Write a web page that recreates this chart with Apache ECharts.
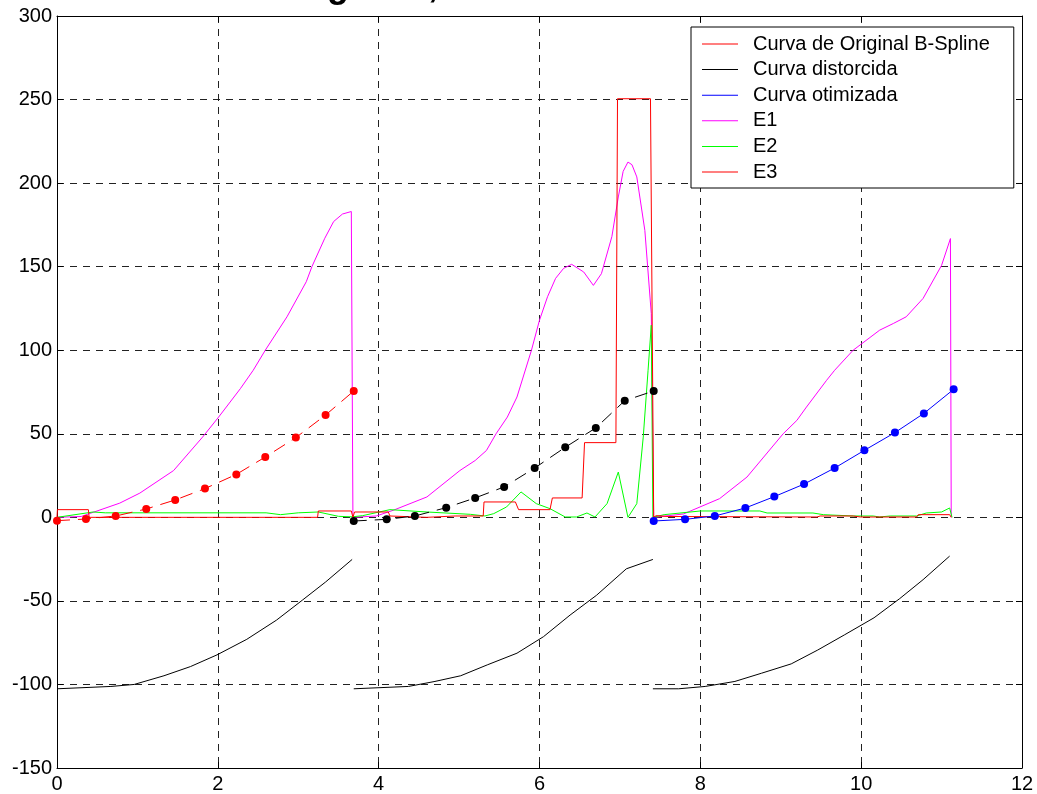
<!DOCTYPE html>
<html><head><meta charset="utf-8">
<script src="https://cdn.jsdelivr.net/npm/echarts@6/dist/echarts.min.js"></script>
<style>html,body{margin:0;padding:0;background:#fff}#c{width:1037px;height:794px}</style>
</head><body><div id="c"></div>
<script>
// ---- data ----
const legendNames = ['Curva de Original B-Spline','Curva distorcida','Curva otimizada','E1','E2','E3'];

const splineX = [0, 0.36, 0.73, 1.11, 1.47, 1.84, 2.23, 2.59, 2.97, 3.34, 3.69];
const splineY = [-2, -1, 0.8, 5, 10.4, 17.2, 25.7, 36.1, 47.7, 61.2, 75.6];

const distX = [3.69, 4.10, 4.45, 4.84, 5.20, 5.56, 5.94, 6.32, 6.70, 7.06, 7.42];
const distY = [-2.2, -1.2, 0.8, 5.8, 11.6, 18.2, 29.5, 41.9, 53.5, 69.8, 75.6];

const optX = [7.42, 7.81, 8.18, 8.56, 8.92, 9.29, 9.67, 10.04, 10.42, 10.78, 11.15];
const optY = [-2.2, -1.2, 0.8, 5.6, 12.4, 19.9, 29.5, 40.1, 50.7, 62.2, 76.6];

const e1X = [0, 0.3, 0.78, 1.03, 1.45, 1.81, 2.01, 2.28, 2.44, 2.59, 2.86, 3.10, 3.17, 3.33, 3.44, 3.55, 3.66, 3.68,
             3.97, 4.18, 4.60, 5.01, 5.20, 5.34, 5.46, 5.60, 5.72, 5.90, 6.0, 6.10, 6.20, 6.30, 6.40, 6.55, 6.67, 6.77, 6.90, 6.98, 7.04, 7.10, 7.15, 7.21, 7.31, 7.39, 7.42,
             7.79, 8.24, 8.58, 9.03, 9.20, 9.32, 9.57, 9.67, 9.90, 10.23, 10.40, 10.56, 10.77, 11.0, 11.11, 11.12];
const e1Y = [0, 0.5, 8.5, 14.5, 28, 48, 60, 77, 88, 100, 120, 141, 150, 167, 177, 181.5, 183, 0,
             0.8, 4.2, 12.2, 28, 34, 40, 50, 60, 72, 100, 118, 132, 143, 149, 151.4, 146.8, 138.8, 145.8, 168, 191.7, 207, 212.6, 211, 203.7, 171.7, 121.9, 0,
             2, 11.2, 24.1, 50, 58, 66, 82, 88, 100, 112, 116, 120, 131, 150.8, 166.8, 0];

const e2X = [0, 0.45, 0.6, 2.6, 2.78, 3.0, 3.25, 3.50, 3.67,
             3.80, 4.14, 4.6, 5.14, 5.32, 5.43, 5.59, 5.77, 5.96, 6.13, 6.32, 6.46, 6.59, 6.69, 6.84, 6.98, 7.10, 7.21, 7.29, 7.35, 7.39, 7.41,
             7.42, 7.55, 8.0, 8.74, 8.83, 9.40, 9.53, 9.90, 10.15, 10.23, 10.36, 10.69, 10.81, 11.0, 11.10, 11.13];
const e2Y = [0, 3.2, 2.7, 2.7, 1.6, 2.7, 3.2, 0.6, 0.3,
             1, 4.6, 3.2, 1.8, 0.8, 2.2, 6.2, 15.2, 8.2, 5.2, 0.2, 0.2, 2.6, 0.2, 8.2, 27.1, 0, 8.2, 48, 88, 115, 0,
             0, 1.6, 3.8, 3.8, 2.6, 2.6, 1.6, 0.8, 0.8, 0.2, 0.8, 0.8, 2.6, 3.2, 5.6, 0];

const e3X = [0, 0.005, 0.39, 0.40, 3.24, 3.25, 3.66, 3.68, 3.70, 4.12, 4.14, 4.6, 4.95, 5.30, 5.31, 5.70, 5.74, 6.13, 6.16, 6.53, 6.56, 6.95, 6.97, 7.38, 7.42,
             7.45, 7.6, 9.45, 9.49, 9.9, 9.99, 10.69, 10.71, 11.10, 11.12];
const e3Y = [0, 4.6, 4.6, 0, 0, 3.8, 3.8, 0, 3.2, 3.2, 0.8, 0, 0.8, 0.8, 9.2, 9.2, 4.6, 4.6, 11.6, 11.6, 44.7, 44.7, 250.5, 250.5, 0,
             1, 0.5, 0.2, 0.8, 0.8, 0.2, 0.2, 1.6, 1.6, 0];

const low1X = [0, 0.67, 0.96, 1.33, 1.66, 1.99, 2.36, 2.73, 3.05, 3.34, 3.67];
const low1Y = [-102.6, -101.2, -100, -94.8, -89.3, -82.3, -73, -61.5, -49.6, -38.7, -25.2];
const low2X = [3.69, 4.37, 4.70, 5.02, 5.35, 5.72, 6.05, 6.38, 6.71, 7.08, 7.41];
const low2Y = [-102.6, -101.2, -98.2, -94.8, -88.3, -81.3, -71.4, -58.5, -46.6, -30.8, -25.2];
const low3X = [7.41, 7.73, 8.06, 8.43, 8.76, 9.13, 9.46, 9.79, 10.16, 10.48, 10.77, 11.10];
const low3Y = [-102.6, -102.6, -101.2, -98.2, -93.3, -87.7, -79.4, -70.4, -60.1, -48.6, -37.3, -23.2];

const xMin = 0, xMax = 12, xStep = 2;
const yMin = -150, yMax = 300, yStep = 50;

// ---- chart ----
const zip = (xs, ys) => xs.map((x, i) => [x, ys[i]]);
const FONT = 'Liberation Sans, Arial, sans-serif';
const chart = echarts.init(document.getElementById('c'), null, {renderer: 'canvas'});

const gridLine = {show: true, lineStyle: {type: [7, 6], color: '#222', width: 1}};
const axLine = {show: true, onZero: false, lineStyle: {color: '#000', width: 1}};
const axTick = {show: true, inside: true, length: 6, lineStyle: {color: '#000'}};

function markerLine(name, xs, ys, color, dashed) {
  return {
    name, type: 'line', data: zip(xs, ys), symbol: 'circle', symbolSize: 8, showSymbol: true,
    itemStyle: {color}, lineStyle: {color, width: 1, type: dashed ? [13, 8] : 'solid'}, z: 3
  };
}
function plainLine(name, xs, ys, color, z) {
  return {
    name, type: 'line', data: zip(xs, ys), symbol: 'none', showSymbol: false,
    itemStyle: {color}, lineStyle: {color, width: 1}, z: z || 2
  };
}

const option = {
  animation: false,
  backgroundColor: '#fff',
  title: [
    {text: 'g', left: 327, top: -31, padding: 0, textStyle: {fontSize: 36, fontWeight: 'bold', fontFamily: FONT, color: '#000'}},
    {text: ',', left: 428, top: -31, padding: 0, textStyle: {fontSize: 36, fontWeight: 'bold', fontFamily: FONT, color: '#000'}}
  ],
  grid: {left: 57, right: 15, top: 16, bottom: 26, containLabel: false},
  legend: {
    data: legendNames, orient: 'vertical', left: 691, top: 27,
    icon: 'rect', itemWidth: 36, itemHeight: 1, itemGap: 5.6,
    padding: [7, 24, 6, 11], borderColor: '#000', borderWidth: 1, backgroundColor: '#fff',
    textStyle: {fontSize: 20, fontFamily: FONT, color: '#000', lineHeight: 20, padding: [0, 0, 0, 10]},
    selectedMode: false, z: 10
  },
  xAxis: [
    {type: 'value', min: xMin, max: xMax, interval: xStep, position: 'bottom',
     axisLine: axLine, axisTick: axTick,
     axisLabel: {color: '#000', fontSize: 20, fontFamily: FONT, margin: 6}, splitLine: gridLine},
    {type: 'value', min: xMin, max: xMax, interval: xStep, position: 'top',
     axisLine: axLine, axisTick: axTick, axisLabel: {show: false}, splitLine: {show: false}}
  ],
  yAxis: [
    {type: 'value', min: yMin, max: yMax, interval: yStep, position: 'left',
     axisLine: axLine, axisTick: axTick,
     axisLabel: {color: '#000', fontSize: 20, fontFamily: FONT, margin: 5}, splitLine: gridLine},
    {type: 'value', min: yMin, max: yMax, interval: yStep, position: 'right',
     axisLine: axLine, axisTick: axTick, axisLabel: {show: false}, splitLine: {show: false}}
  ],
  series: [
    markerLine(legendNames[0], splineX, splineY, '#ff0000', true),
    markerLine(legendNames[1], distX, distY, '#000000', true),
    markerLine(legendNames[2], optX, optY, '#0000ff', false),
    plainLine(legendNames[3], e1X, e1Y, '#ff00ff'),
    plainLine(legendNames[4], e2X, e2Y, '#00ff00'),
    plainLine(legendNames[5], e3X, e3Y, '#ff0000'),
    plainLine('low1', low1X, low1Y, '#000000'),
    plainLine('low2', low2X, low2Y, '#000000'),
    plainLine('low3', low3X, low3Y, '#000000')
  ]
};
chart.setOption(option);
</script>
</body></html>
